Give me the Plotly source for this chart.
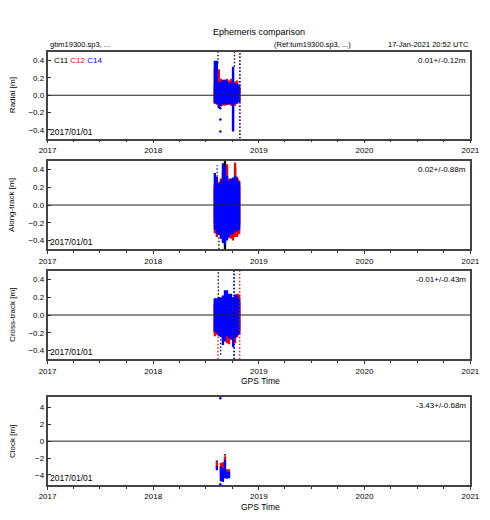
import plotly.graph_objects as go

W, H = 490, 520

# weekly epochs of the dense cluster
DATES = ["2018-08-02", "2018-08-09", "2018-08-16", "2018-08-23", "2018-08-30",
         "2018-09-06", "2018-09-13", "2018-09-20", "2018-09-27", "2018-10-04",
         "2018-10-11", "2018-10-18", "2018-10-25"]

# ---- Radial [m] envelopes (low / high) per satellite ----
RAD_C11_LO = [-0.08, -0.10, -0.15, -0.10, -0.09, -0.09, -0.09, -0.09, -0.09, -0.10, -0.09, -0.08, -0.07]
RAD_C11_HI = [0.10, 0.12, 0.12, 0.12, 0.12, 0.12, 0.12, 0.11, 0.11, 0.12, 0.11, 0.10, 0.09]
RAD_C12_LO = [-0.10, -0.11, -0.13, -0.13, -0.12, -0.12, -0.11, -0.11, -0.12, -0.40, -0.12, -0.10, -0.08]
RAD_C12_HI = [0.30, 0.33, 0.30, 0.19, 0.17, 0.18, 0.19, 0.17, 0.19, 0.25, 0.16, 0.17, 0.12]
RAD_C14_LO = [-0.09, -0.10, -0.14, -0.12, -0.10, -0.10, -0.11, -0.10, -0.11, -0.42, -0.10, -0.09, -0.08]
RAD_C14_HI = [0.40, 0.40, 0.15, 0.16, 0.18, 0.18, 0.17, 0.14, 0.15, 0.33, 0.14, 0.13, 0.12]

# ---- Along-track [m] ----
ALG_C11_LO = [-0.20, -0.22, -0.25, -0.28, -0.30, -0.50, -0.36, -0.28, -0.26, -0.26, -0.30, -0.25, -0.22]
ALG_C11_HI = [0.20, 0.22, 0.22, 0.25, 0.30, 0.50, 0.42, 0.25, 0.25, 0.30, 0.42, 0.25, 0.22]
ALG_C12_LO = [-0.32, -0.36, -0.30, -0.35, -0.40, -0.42, -0.38, -0.34, -0.38, -0.40, -0.36, -0.36, -0.33]
ALG_C12_HI = [0.24, 0.20, 0.26, 0.30, 0.38, 0.40, 0.46, 0.30, 0.28, 0.30, 0.48, 0.32, 0.28]
ALG_C14_LO = [-0.28, -0.33, -0.34, -0.38, -0.43, -0.45, -0.40, -0.37, -0.33, -0.33, -0.30, -0.30, -0.28]
ALG_C14_HI = [0.36, 0.32, 0.24, 0.28, 0.47, 0.44, 0.33, 0.27, 0.30, 0.31, 0.33, 0.30, 0.26]

# ---- Cross-track [m] ----
CRS_C11_LO = [-0.20, -0.22, -0.20, -0.20, -0.22, -0.22, -0.20, -0.20, -0.20, -0.24, -0.22, -0.20, -0.18]
CRS_C11_HI = [0.12, 0.12, 0.14, 0.14, 0.15, 0.18, 0.18, 0.16, 0.16, 0.16, 0.18, 0.16, 0.14]
CRS_C12_LO = [-0.24, -0.22, -0.20, -0.22, -0.28, -0.26, -0.32, -0.33, -0.25, -0.28, -0.32, -0.25, -0.22]
CRS_C12_HI = [0.17, 0.15, 0.18, 0.16, 0.20, 0.22, 0.20, 0.22, 0.20, 0.18, 0.20, 0.24, 0.23]
CRS_C14_LO = [-0.19, -0.20, -0.24, -0.25, -0.34, -0.30, -0.24, -0.26, -0.28, -0.36, -0.26, -0.24, -0.22]
CRS_C14_HI = [0.19, 0.19, 0.20, 0.20, 0.22, 0.28, 0.28, 0.24, 0.24, 0.20, 0.23, 0.22, 0.19]

# ---- Clock [m] (sparse) ----
CLK_DATES = ["2018-08-09", "2018-08-23", "2018-08-30", "2018-09-06", "2018-09-13", "2018-09-20"]
CLK_C11_LO = [-2.45, None, None, -1.70, -3.50, -3.50]
CLK_C11_HI = [-2.30, None, None, -1.55, -3.35, -3.35]
CLK_C12_LO = [-3.10, -4.30, -4.50, -4.00, -4.20, -4.25]
CLK_C12_HI = [-2.45, -2.60, -2.50, -1.80, -3.40, -3.45]
CLK_C14_LO = [-3.45, -4.75, -4.85, -4.40, -4.45, -4.40]
CLK_C14_HI = [-2.95, -3.00, -3.20, -2.20, -3.60, -3.65]

# ---- isolated outlier epochs (dotted columns): (date, low, high) ----
RAD_OUT_C11 = [("2018-08-13", 0.37, 0.50), ("2018-10-09", 0.33, 0.50)]
RAD_OUT_C12 = [("2018-10-27", -0.50, 0.50)]
RAD_OUT_C14 = [("2018-10-28", -0.50, 0.50)]
ALG_OUT_C11 = [("2018-08-16", -0.50, -0.23)]
ALG_OUT_C14 = [("2018-08-10", 0.32, 0.45)]
CRS_OUT_C11 = [("2018-08-14", 0.19, 0.50), ("2018-10-08", -0.50, 0.50)]
CRS_OUT_C12 = [("2018-08-13", -0.50, -0.24), ("2018-10-27", -0.50, 0.50)]
CRS_OUT_C14 = [("2018-10-07", -0.50, 0.50), ("2018-08-22", -0.45, -0.25)]

# single scattered points
RAD_PTS_C14_X = ["2018-08-21", "2018-08-21", "2018-08-21"]
RAD_PTS_C14_Y = [-0.15, -0.28, -0.42]
CLK_PTS_C14_X = ["2018-08-21", "2018-08-21"]
CLK_PTS_C14_Y = [5.1, -5.1]

# ---- labels ----
SATS = ["C11", "C12", "C14"]
COLORS = {"C11": "#000000", "C12": "#ff0000", "C14": "#0000ff"}
YTITLES = ["Radial [m]", "Along-track [m]", "Cross-track [m]", "Clock [m]"]
STATS = ["0.01+/-0.12m", "0.02+/-0.88m", "-0.01+/-0.43m", "-3.43+/-0.68m"]
YRANGES = [[-0.5, 0.5], [-0.5, 0.5], [-0.5, 0.5], [-5.2, 5.2]]
YDTICK = [0.2, 0.2, 0.2, 2]
YFMT = [".1f", ".1f", ".1f", "d"]

# panel pixel boxes (top, bottom)
PANELS = [(52, 138.5), (160.7, 249.3), (270.7, 359.3), (397.3, 485)]
XL, XR = 40, 479

FONT = "Liberation Sans, Arial, sans-serif"


def px(x):
    return x / W


def py(y):
    return 1 - y / H


def segs(dates, lo, hi):
    xs, ys = [], []
    for d, a, b in zip(dates, lo, hi):
        if a is None or b is None:
            continue
        xs += [d, d, None]
        ys += [a, b, None]
    return xs, ys


fig = go.Figure()

panel_data = [
    (DATES, {"C11": (RAD_C11_LO, RAD_C11_HI), "C12": (RAD_C12_LO, RAD_C12_HI), "C14": (RAD_C14_LO, RAD_C14_HI)},
     {"C11": RAD_OUT_C11, "C12": RAD_OUT_C12, "C14": RAD_OUT_C14}, (RAD_PTS_C14_X, RAD_PTS_C14_Y)),
    (DATES, {"C11": (ALG_C11_LO, ALG_C11_HI), "C12": (ALG_C12_LO, ALG_C12_HI), "C14": (ALG_C14_LO, ALG_C14_HI)},
     {"C11": ALG_OUT_C11, "C14": ALG_OUT_C14}, None),
    (DATES, {"C11": (CRS_C11_LO, CRS_C11_HI), "C12": (CRS_C12_LO, CRS_C12_HI), "C14": (CRS_C14_LO, CRS_C14_HI)},
     {"C11": CRS_OUT_C11, "C12": CRS_OUT_C12, "C14": CRS_OUT_C14}, None),
    (CLK_DATES, {"C11": (CLK_C11_LO, CLK_C11_HI), "C12": (CLK_C12_LO, CLK_C12_HI), "C14": (CLK_C14_LO, CLK_C14_HI)},
     {}, (CLK_PTS_C14_X, CLK_PTS_C14_Y)),
]

for i, (dates, env, outs, pts) in enumerate(panel_data):
    ax = "" if i == 0 else str(i + 1)
    xa, ya = "x" + ax, "y" + ax
    for s in SATS:
        lo, hi = env[s]
        xs, ys = segs(dates, lo, hi)
        fig.add_trace(go.Scatter(x=xs, y=ys, mode="lines", xaxis=xa, yaxis=ya,
                                 line=dict(color=COLORS[s], width=2.3),
                                 showlegend=False, hoverinfo="skip"))
    for s in SATS:
        if s in outs:
            o = outs[s]
            xs, ys = segs([a[0] for a in o], [a[1] for a in o], [a[2] for a in o])
            fig.add_trace(go.Scatter(x=xs, y=ys, mode="lines", xaxis=xa, yaxis=ya,
                                     line=dict(color=COLORS[s], width=1.3, dash="1.5px,2px"),
                                     showlegend=False, hoverinfo="skip"))
    if pts is not None:
        fig.add_trace(go.Scatter(x=pts[0], y=pts[1], mode="markers", xaxis=xa, yaxis=ya,
                                 marker=dict(color=COLORS["C14"], size=2.5),
                                 showlegend=False, hoverinfo="skip", cliponaxis=False))

layout = dict(width=W, height=H, margin=dict(l=0, r=0, t=0, b=0),
              paper_bgcolor="white", plot_bgcolor="white",
              font=dict(family=FONT, size=8, color="black"),
              showlegend=False)

shapes = []
for i, (top, bot) in enumerate(PANELS):
    ax = "" if i == 0 else str(i + 1)
    layout["xaxis" + ax] = dict(
        domain=[px(XL), px(XR)], anchor="y" + ax, type="date",
        range=["2017-01-01", "2021-01-01"], dtick="M12", tick0="2017-01-01",
        tickformat="%Y", ticks="outside", ticklen=3, tickcolor="#333",
        minor=dict(dtick="M3", tick0="2017-01-01", ticks="outside", ticklen=2, tickcolor="#333"),
        showline=True, mirror=True, linecolor="#444", linewidth=1.5,
        showgrid=False, zeroline=False, tickfont=dict(size=8, family=FONT))
    layout["yaxis" + ax] = dict(
        domain=[py(bot), py(top)], anchor="x" + ax, range=YRANGES[i],
        dtick=YDTICK[i], tick0=0, tickformat=YFMT[i], ticks="inside", ticklen=4,
        tickcolor="#333", showline=True, mirror=True, linecolor="#444", linewidth=1.5,
        showgrid=False, zeroline=False, tickfont=dict(size=8, family=FONT))
    # zero reference line drawn above the data
    shapes.append(dict(type="line", xref="x" + ax + " domain", yref="y" + ax,
                       x0=0, x1=1, y0=0, y1=0, layer="above",
                       line=dict(color="#222", width=1)))

ann = []


def A(text, x, y, xanchor="center", size=8, angle=0, color="black"):
    ann.append(dict(text=text, x=px(x), y=py(y), xref="paper", yref="paper",
                    xanchor=xanchor, yanchor="middle", showarrow=False,
                    textangle=angle, font=dict(size=size, color=color, family=FONT)))


A("Ephemeris comparison", 260, 32, size=9)
A("gbm19300.sp3, ...", 40, 44, xanchor="left", size=7.5)
A("(Ref:tum19300.sp3, ...)", 315, 44, size=7.5)
A("17-Jan-2021 20:52 UTC", 480, 44, xanchor="right", size=7.5)
A("C11 <span style='color:#ff0000'>C12</span> <span style='color:#0000ff'>C14</span>", 45, 60,
  xanchor="left", size=8)

for i, (top, bot) in enumerate(PANELS):
    A(STATS[i], 476, top + 8.5, xanchor="right", size=8)
    A("2017/01/01", 41, bot - 7, xanchor="left", size=8.5)
    A(YTITLES[i], 3, (top + bot) / 2, size=8, angle=-90)

A("GPS Time", 261, 381, size=8.5)
A("GPS Time", 261, 507, size=8.5)

layout["annotations"] = ann
layout["shapes"] = shapes
fig.update_layout(**layout)
fig.write_html("out.html", config={"displayModeBar": False},
               post_script="document.body.style.margin='0';document.body.style.overflow='hidden';")
